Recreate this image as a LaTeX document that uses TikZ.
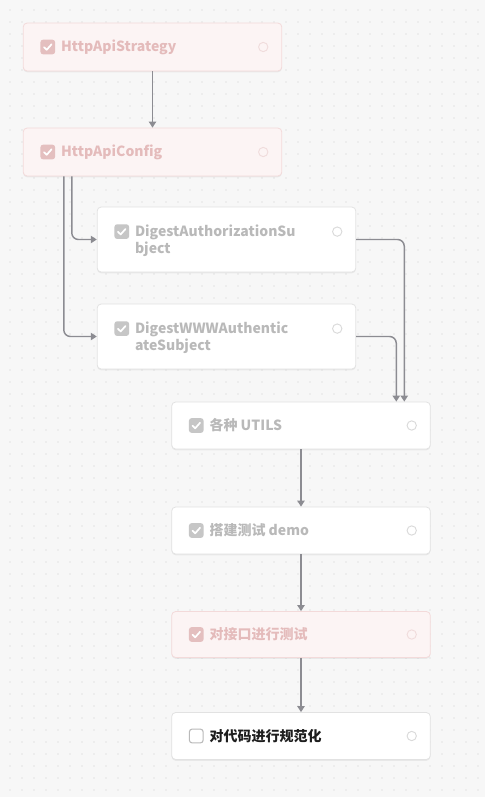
\documentclass[tikz,border=0pt]{standalone}
\usepackage{fontspec}
\setmainfont{Noto Sans CJK SC}
\usetikzlibrary{arrows.meta,calc,shadows}
\definecolor{bgc}{HTML}{F7F7F7}
\definecolor{dotc}{HTML}{E3E3E3}
\definecolor{pinkfill}{HTML}{FCF4F4}
\definecolor{pinkline}{HTML}{F3DADA}
\definecolor{pinktext}{HTML}{E4BBBB}
\definecolor{pinkchk}{HTML}{E4BFBF}
\definecolor{pinkcirc}{HTML}{F0DCDC}
\definecolor{greyline}{HTML}{E2E2E2}
\definecolor{greytext}{HTML}{B9B9B9}
\definecolor{greychk}{HTML}{C6C6C6}
\definecolor{greycirc}{HTML}{DADADA}
\definecolor{darktext}{HTML}{1E1E1E}
\definecolor{edgec}{HTML}{8C8C92}
\tikzset{
  card/.style={rectangle, rounded corners=3pt, line width=0.6pt, minimum width=194pt, inner sep=0pt,
    drop shadow={shadow xshift=0pt, shadow yshift=-1pt, opacity=0.06, fill=black}},
  pinkcard/.style={card, draw=pinkline, fill=pinkfill},
  whitecard/.style={card, draw=greyline, fill=white},
  chk/.style={rectangle, rounded corners=2pt, minimum size=11pt, inner sep=0pt},
  label/.style={anchor=west, inner sep=0pt, font=\bfseries\fontsize{10.5pt}{12.75pt}\selectfont, align=left},
  dotcirc/.style={circle, draw, line width=0.7pt, minimum size=7pt, inner sep=0pt, fill=none},
  flow/.style={draw=edgec, line width=1.1pt, rounded corners=5pt, -{Triangle[width=5.5pt,length=4.5pt]}},
  tick/.style={white, line width=1.3pt, line cap=round, line join=round}
}
\begin{document}
\begin{tikzpicture}[x=0.75pt,y=-0.75pt]
\fill[bgc] (0,0) rectangle (485,797);
\useasboundingbox (0,0) rectangle (485,797);
\foreach \i in {0,...,40}{\foreach \j in {0,...,66}{\fill[dotc] (10+12*\i,10+12*\j) circle (0.6pt);}}

% cards
\node[pinkcard, minimum height=36pt] (n1) at (152.5,47) {};
\node[pinkcard, minimum height=36pt] (n2) at (152.5,152) {};
\node[whitecard, minimum height=48.75pt] (n3) at (226.5,239.5) {};
\node[whitecard, minimum height=48.75pt] (n4) at (226.5,336.5) {};
\node[whitecard, minimum height=35.25pt] (n5) at (301,425.5) {};
\node[whitecard, minimum height=35.25pt] (n6) at (301,530.5) {};
\node[pinkcard, minimum height=34.5pt] (n7) at (301,634.5) {};
\node[whitecard, minimum height=35.25pt] (n8) at (301,736) {};

% checkboxes
\node[chk, fill=pinkchk] (c1) at ($(n1.west)+(25,0)$) {};
\node[chk, fill=pinkchk] (c2) at ($(n2.west)+(25,0)$) {};
\node[chk, fill=greychk] (c3) at ($(n3.north west)+(25,25)$) {};
\node[chk, fill=greychk] (c4) at ($(n4.north west)+(25,25)$) {};
\node[chk, fill=greychk] (c5) at ($(n5.west)+(25,0)$) {};
\node[chk, fill=greychk] (c6) at ($(n6.west)+(25,0)$) {};
\node[chk, fill=pinkchk] (c7) at ($(n7.west)+(25,0)$) {};
\node[chk, draw=greytext, line width=0.8pt, fill=white, minimum size=10.3pt] (c8) at ($(n8.west)+(25,0)$) {};
\foreach \c in {c1,c2,c3,c4,c5,c6,c7}{
  \draw[tick] ($(\c.center)+(-3.8,0.2)$) -- ($(\c.center)+(-1.1,2.8)$) -- ($(\c.center)+(3.8,-2.7)$);
}

% labels
\node[label, text=pinktext] (t1) at ($(n1.west)+(38,0)$) {HttpApiStrategy};
\node[label, text=pinktext] (t2) at ($(n2.west)+(38,0)$) {HttpApiConfig};
\node[label, text=greytext] (t3) at ($(n3.west)+(38,1)$) {DigestAuthorizationSu\\bject};
\node[label, text=greytext] (t4) at ($(n4.west)+(38,1)$) {DigestWWWAuthentic\\ateSubject};
\node[label, text=greytext] (t5) at ($(n5.west)+(38,0)$) {各种 UTILS};
\node[label, text=greytext] (t6) at ($(n6.west)+(38,0)$) {搭建测试 demo};
\node[label, text=pinktext] (t7) at ($(n7.west)+(38,0)$) {对接口进行测试};
\node[label, text=darktext] (t8) at ($(n8.west)+(38,0)$) {对代码进行规范化};

% small circles
\node[dotcirc, draw=pinkcirc] (o1) at ($(n1.east)+(-19,0)$) {};
\node[dotcirc, draw=pinkcirc] (o2) at ($(n2.east)+(-19,0)$) {};
\node[dotcirc, draw=greycirc] (o3) at ($(n3.north east)+(-19,25)$) {};
\node[dotcirc, draw=greycirc] (o4) at ($(n4.north east)+(-19,25)$) {};
\node[dotcirc, draw=greycirc] (o5) at ($(n5.east)+(-19,0)$) {};
\node[dotcirc, draw=greycirc] (o6) at ($(n6.east)+(-19,0)$) {};
\node[dotcirc, draw=pinkcirc] (o7) at ($(n7.east)+(-19,0)$) {};
\node[dotcirc, draw=greycirc] (o8) at ($(n8.east)+(-19,0)$) {};

% connectors
\coordinate (s23) at ($(n2.south west)+(49,0)$);
\coordinate (s24) at ($(n2.south west)+(41,0)$);
\coordinate (e35) at ($(n5.north west)+(233,0)$);
\coordinate (e45) at ($(n5.north west)+(225,0)$);
\draw[flow] (n1.south) -- (n1.south |- n2.north);
\draw[flow] (s23) |- (n3.west);
\draw[flow] (s24) |- (n4.west);
\draw[flow] (n3.east) -| (e35);
\draw[flow] (n4.east) -| (e45);
\draw[flow] (n5.south) -- (n6.north);
\draw[flow] (n6.south) -- (n7.north);
\draw[flow] (n7.south) -- (n8.north);
\end{tikzpicture}
\end{document}
